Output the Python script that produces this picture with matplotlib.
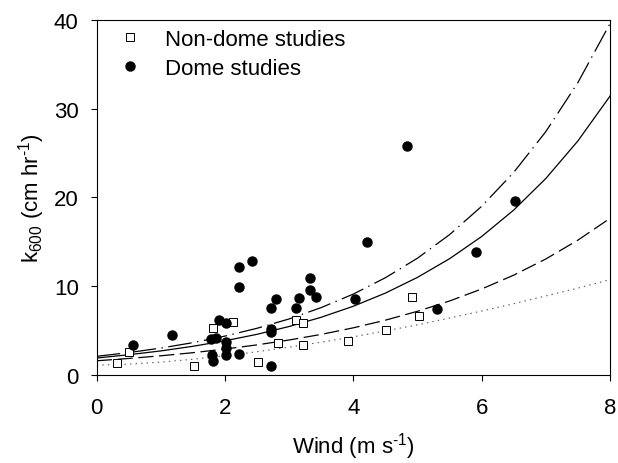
import matplotlib
matplotlib.use("Agg")
import matplotlib.pyplot as plt


# non-dome studies (open squares)
nondome_wind = [0.31, 0.50, 1.82, 2.12, 1.51, 2.52, 3.11, 3.21, 2.82, 3.21, 3.91, 4.51, 4.91, 5.02]
nondome_k600 = [1.4, 2.6, 5.3, 6.0, 1.05, 1.5, 6.2, 5.85, 3.55, 3.4, 3.8, 5.05, 8.8, 6.65]

# dome studies (filled circles)
dome_wind = [0.56, 1.18, 1.90, 2.01, 1.78, 1.86, 1.80, 1.82, 2.01, 2.01, 2.01, 2.22,
             2.22, 2.22, 2.42, 2.71, 2.79, 2.71, 2.71, 2.71, 3.11, 3.15, 3.32, 3.32,
             3.42, 4.02, 4.21, 4.83, 6.52, 5.91, 5.31]
dome_k600 = [3.4, 4.5, 6.2, 5.9, 4.0, 4.2, 2.2, 1.6, 3.7, 3.0, 2.2, 2.35,
             12.2, 9.85, 12.8, 7.5, 8.5, 5.2, 4.8, 1.05, 7.5, 8.65, 10.9, 9.55,
             8.8, 8.5, 15.0, 25.8, 19.55, 13.8, 7.4]

# fitted curves, every 0.5 m/s
curve_wind = [0.0, 0.5, 1.0, 1.5, 2.0, 2.5, 3.0, 3.5, 4.0, 4.5, 5.0, 5.5, 6.0, 6.5, 7.0, 7.5, 8.0]
fit_all = [1.91, 2.28, 2.71, 3.23, 3.85, 4.58, 5.46, 6.50, 7.74, 9.22, 10.99, 13.09,
           15.59, 18.57, 22.12, 26.35, 31.39]
fit_upper = [2.10, 2.52, 3.03, 3.64, 4.38, 5.26, 6.31, 7.59, 9.11, 10.95, 13.15, 15.80,
             18.99, 22.81, 27.40, 32.92, 39.55]
fit_lower = [1.60, 1.86, 2.16, 2.51, 2.92, 3.39, 3.94, 4.57, 5.31, 6.17, 7.17, 8.33,
             9.68, 11.24, 13.06, 15.18, 17.63]
fit_dotted = [1.10, 1.22, 1.45, 1.77, 2.16, 2.62, 3.13, 3.69, 4.30, 4.96, 5.65, 6.41,
              7.20, 8.02, 8.90, 9.78, 10.73]


def main():
    plt.rcParams["font.family"] = ["Liberation Sans", "DejaVu Sans"]
    plt.rcParams["mathtext.fontset"] = "custom"
    plt.rcParams["mathtext.rm"] = "Liberation Sans"
    plt.rcParams["lines.scale_dashes"] = False

    fig = plt.figure(figsize=(6.18, 4.64), dpi=100)
    ax = fig.add_axes([0.1565, 0.1897, 0.8305, 0.7657])

    ax.plot(curve_wind, fit_upper, color="black", lw=0.9, ls=(0, (17, 4, 1, 4)))
    ax.plot(curve_wind, fit_all, color="black", lw=0.9)
    ax.plot(curve_wind, fit_lower, color="black", lw=0.9, ls=(0, (11, 4)))
    ax.plot(curve_wind, fit_dotted, color="#555555", lw=0.8, ls=(0, (1, 3)))

    ax.plot(nondome_wind, nondome_k600, ls="none", marker="s", ms=6, mfc="white",
            mec="black", mew=0.7, label="Non-dome studies", zorder=3)
    ax.plot(dome_wind, dome_k600, ls="none", marker="o", ms=6.5, mfc="black",
            mec="black", label="Dome studies", zorder=4)

    ax.set_xlim(0, 8)
    ax.set_ylim(0, 40)
    ax.set_xticks([0, 2, 4, 6, 8])
    ax.set_yticks([0, 10, 20, 30, 40])
    ax.tick_params(direction="out", length=4, width=0.8, labelsize=16)
    ax.tick_params(axis="x", pad=11.5)
    ax.tick_params(axis="y", pad=9)
    for sp in ax.spines.values():
        sp.set_linewidth(0.8)

    ax.set_xlabel(r"Wind (m s$^{\text{-1}}$)", fontsize=16, labelpad=9)
    ax.set_ylabel(r"k$_{\mathrm{600}}$ (cm hr$^{\text{-1}}$)", fontsize=16, labelpad=5)

    ax.legend(loc="upper left", bbox_to_anchor=(0.013, 1.017), frameon=False,
              fontsize=16, handlelength=1.0, handletextpad=1.08, labelspacing=0.33,
              borderaxespad=0.3)

    fig.savefig("out.png", dpi=100)
    plt.close(fig)


if __name__ == "__main__":
    main()
